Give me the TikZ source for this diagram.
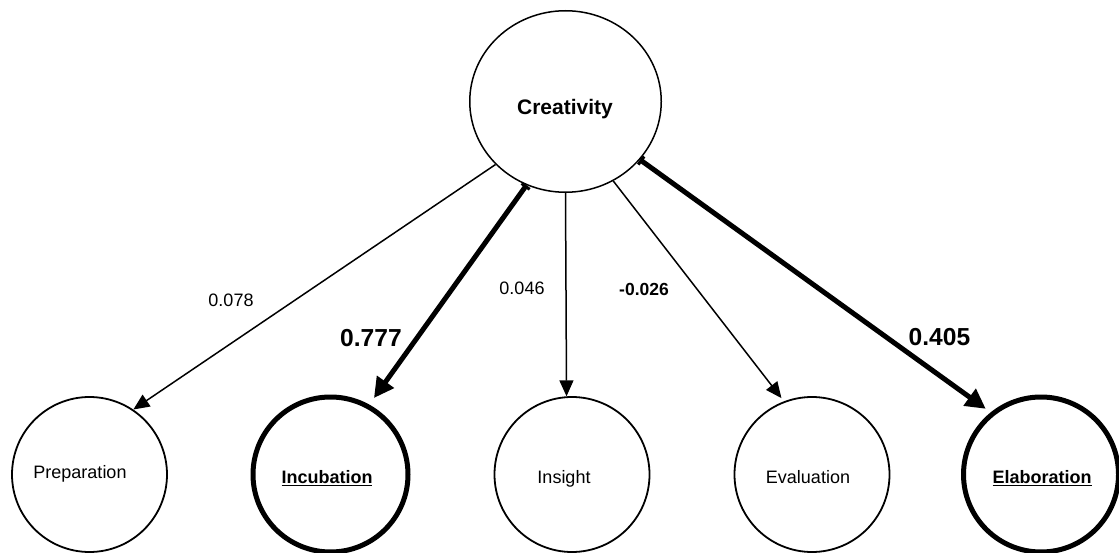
\documentclass[tikz,border=0pt]{standalone}
\usepackage{fontspec}
\setmainfont{Liberation Sans}
\usetikzlibrary{arrows.meta,shapes.geometric}
\begin{document}
\begin{tikzpicture}[x=1pt,y=-1pt,
  stage/.style={circle,draw,line width=1.8pt,minimum size=155pt,inner sep=0pt},
  keystage/.style={stage,line width=5pt,minimum size=155pt},
  stagetext/.style={anchor=base,inner sep=0pt,font=\fontsize{18}{21}\selectfont},
  keytext/.style={stagetext,font=\bfseries\fontsize{18}{21}\selectfont},
  weight/.style={anchor=base,inner sep=0pt,font=\fontsize{18}{21}\selectfont},
  smallweight/.style={weight,font=\bfseries\fontsize{17.5}{20}\selectfont},
  bigweight/.style={weight,font=\bfseries\fontsize{24.6}{28}\selectfont},
  weakpath/.style={line width=1.5pt,-{Triangle[length=16pt,width=14pt]}},
  strongpath/.style={line width=5pt,{Bar[width=10pt,line width=3pt]}-{Triangle[length=20pt,width=20pt]}},
]
\useasboundingbox (0,0) rectangle (1119,553);

% latent factor
\node[ellipse,draw,line width=1.5pt,minimum width=191.5pt,minimum height=181.5pt,inner sep=0pt] (cre) at (565.5,101.5) {};
\node[anchor=base,inner sep=0pt,font=\bfseries\fontsize{21}{24}\selectfont] (creT) at (565,114.5) {Creativity};

% stages
\node[stage]    (prep) at (89.5,474.5) {};
\node[keystage] (inc)  at (330.5,474.5) {};
\node[stage]    (ins)  at (572,474.5) {};
\node[stage]    (eva)  at (812,474.5) {};
\node[keystage] (ela)  at (1041,474.5) {};

\node[stagetext] (prepT) at (80,478.3) {Preparation};
\node[keytext]   (incT)  at (327,483.3) {\underline{Incubation}};
\node[stagetext] (insT)  at (564,483.3) {Insight};
\node[stagetext] (evaT)  at (808,483.3) {Evaluation};
\node[keytext]   (elaT)  at (1042,483.3) {\underline{Elaboration}};

% loadings
\draw[weakpath]   (cre.222.5) -- (prep.56.4);
\draw[strongpath,shorten >=8pt] (cre.245.3) -- (inc.61.3);
\draw[weakpath]   (cre.270) -- (ins.94.4);
\draw[weakpath,shorten >=4pt] (cre.301.4) -- (eva.111.2);
\draw[strongpath,shorten >=6pt] (cre.322.9) -- (ela.129.3);

\node[weight]      (w1) at (231,306.7) {0.078};
\node[bigweight]   (w2) at (371,346.7) {0.777};
\node[weight]      (w3) at (522,295) {0.046};
\node[smallweight] (w4) at (644,295.7) {-0.026};
\node[bigweight]   (w5) at (939.5,345.7) {0.405};
\end{tikzpicture}
\end{document}
